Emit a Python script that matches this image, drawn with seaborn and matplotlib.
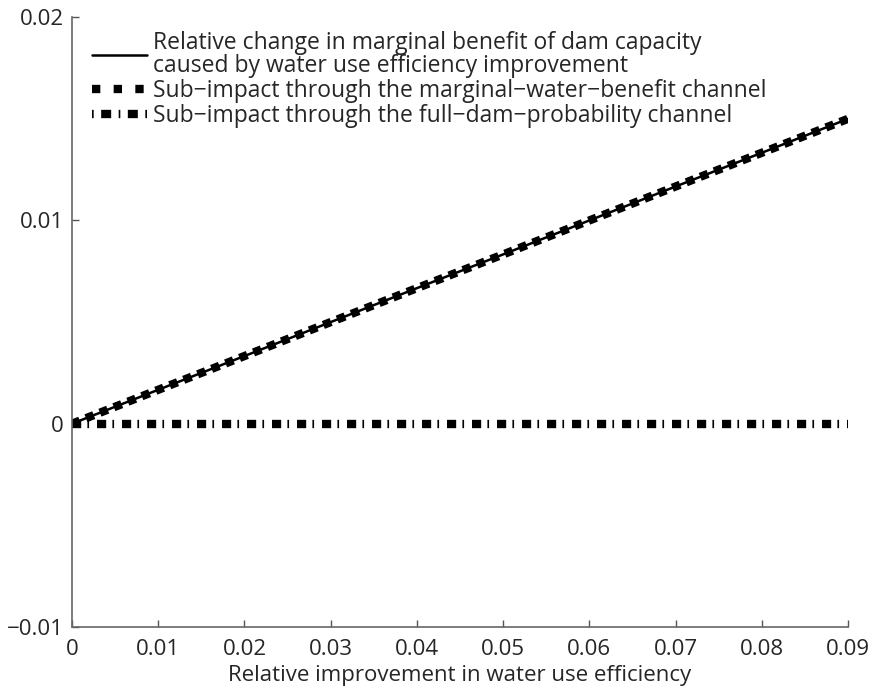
import matplotlib
matplotlib.use('Agg')
import pandas as pd
import seaborn as sns
import matplotlib.pyplot as plt

# values
efficiency = [0.0, 0.01, 0.02, 0.03, 0.04, 0.05, 0.06, 0.07, 0.08, 0.09]
total_change = [0.0, 0.00167, 0.00333, 0.005, 0.00667, 0.00833, 0.01, 0.01167, 0.01333, 0.015]
water_benefit = [0.0, 0.00167, 0.00333, 0.005, 0.00667, 0.00833, 0.01, 0.01167, 0.01333, 0.015]
full_dam = [0.0, 0.0, 0.0, 0.0, 0.0, 0.0, 0.0, 0.0, 0.0, 0.0]

labels = [
    'Relative change in marginal benefit of dam capacity\ncaused by water use efficiency improvement',
    'Sub\u2212impact through the marginal\u2212water\u2212benefit channel',
    'Sub\u2212impact through the full\u2212dam\u2212probability channel',
]

x_ticks = [0, 0.01, 0.02, 0.03, 0.04, 0.05, 0.06, 0.07, 0.08, 0.09]
x_tick_labels = ['0', '0.01', '0.02', '0.03', '0.04', '0.05', '0.06', '0.07', '0.08', '0.09']
y_ticks = [-0.01, 0, 0.01, 0.02]
y_tick_labels = ['\u22120.01', '0', '0.01', '0.02']


def main():
    sns.set_style('ticks')
    plt.rcParams['font.family'] = ['Open Sans', 'DejaVu Sans']
    fs = 16

    df = pd.DataFrame({
        'x': efficiency,
        'total': total_change,
        'water': water_benefit,
        'full': full_dam,
    })

    fig = plt.figure(figsize=(8.72, 6.88), dpi=100)
    ax = fig.add_axes([0.0826, 0.0887, 0.8899, 0.8863])

    sns.lineplot(data=df, x='x', y='total', ax=ax, color='black',
                 linewidth=1.8, label=labels[0])
    sns.lineplot(data=df, x='x', y='water', ax=ax, color='black',
                 linewidth=6, label=labels[1])
    sns.lineplot(data=df, x='x', y='full', ax=ax, color='black',
                 linewidth=6, label=labels[2])

    lines = ax.get_lines()
    lines[1].set_dashes((1, 0.8))
    lines[1].set_dash_capstyle('butt')
    lines[2].set_dashes((1.1, 0.75, 0.2, 0.95))
    lines[2].set_dash_capstyle('butt')

    ax.set_xlim(0, 0.09)
    ax.set_ylim(-0.01, 0.02)
    ax.set_xticks(x_ticks)
    ax.set_xticklabels(x_tick_labels)
    ax.set_yticks(y_ticks)
    ax.set_yticklabels(y_tick_labels)
    ax.tick_params(direction='in', length=5, width=1, color='#555555',
                   labelsize=fs, pad=6)
    ax.tick_params(axis='x', pad=9)
    sns.despine(ax=ax)
    for side in ['left', 'bottom']:
        ax.spines[side].set_color('#666666')
        ax.spines[side].set_linewidth(1.2)

    ax.set_xlabel('Relative improvement in water use efficiency', fontsize=fs,
                  labelpad=3)
    ax.set_ylabel('')

    leg = ax.legend(loc='upper left', bbox_to_anchor=(0.026, 0.978),
                    frameon=False, fontsize=16.5, handlelength=2.4,
                    handletextpad=0.25, labelspacing=0.05, borderaxespad=0,
                    borderpad=0)
    for t in leg.get_texts():
        t.set_linespacing(0.95)
    handles = leg.get_lines()
    for h in handles:
        h.set_color('black')
    handles[1].set_dashes((1, 1.6))
    handles[2].set_dashes((0.2, 0.9, 1.2, 0.9))

    fig.savefig('out.png', dpi=100)
    plt.close(fig)


main()
